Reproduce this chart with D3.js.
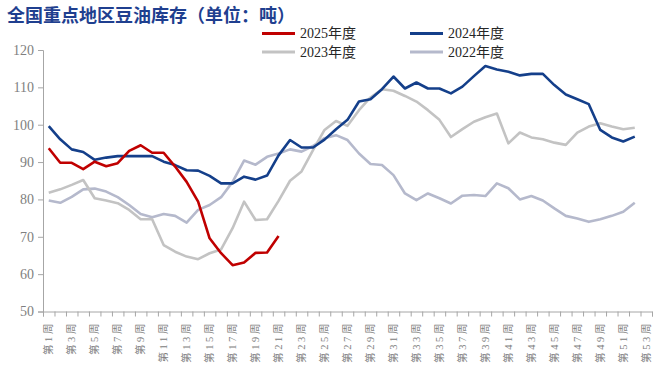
<!DOCTYPE html>
<html><head><meta charset="utf-8">
<script src="https://cdn.jsdelivr.net/npm/d3@7"></script>
<style>
html,body{margin:0;padding:0;background:#fff;}
svg{display:block;}
</style></head>
<body>
<svg id="chart" width="660" height="379"></svg>
<script>
const title = "全国重点地区豆油库存（单位：吨）";
const weeks = ["第1周","第2周","第3周","第4周","第5周","第6周","第7周","第8周","第9周","第10周",
"第11周","第12周","第13周","第14周","第15周","第16周","第17周","第18周","第19周","第20周",
"第21周","第22周","第23周","第24周","第25周","第26周","第27周","第28周","第29周","第30周",
"第31周","第32周","第33周","第34周","第35周","第36周","第37周","第38周","第39周","第40周",
"第41周","第42周","第43周","第44周","第45周","第46周","第47周","第48周","第49周","第50周",
"第51周","第52周","第53周"];
const yTicks = [50,60,70,80,90,100,110,120];
const seriesNames = ["2022年度","2023年度","2024年度","2025年度"];
const y2025 = [93.7,89.8,89.8,88.1,90.1,88.9,89.7,93.0,94.5,92.5,92.5,88.8,84.7,79.4,69.6,65.6,62.4,63.1,65.7,65.8,70.2];
const y2024 = [99.6,96.1,93.4,92.7,90.6,91.2,91.6,91.6,91.6,91.6,90.1,89.2,87.8,87.7,86.3,84.3,84.3,86.1,85.3,86.4,
91.8,95.9,93.9,93.9,96.0,98.8,101.3,106.2,106.8,109.5,112.9,109.7,111.3,109.7,109.7,108.4,110.2,113.0,115.7,114.8,
114.2,113.2,113.6,113.6,110.6,108.1,106.8,105.5,98.6,96.6,95.5,96.8];
const y2023 = [81.8,82.7,83.9,85.2,80.3,79.7,79.0,77.2,74.7,74.7,67.8,66.0,64.7,64.0,65.6,66.6,72.3,79.4,74.5,74.7,
79.6,85.0,87.5,93.2,98.6,101.0,99.7,103.9,107.3,109.5,109.1,107.7,106.2,103.9,101.3,96.7,98.8,100.8,102.0,103.0,
95.0,97.9,96.6,96.1,95.2,94.6,97.9,99.5,100.4,99.5,98.8,99.2];
const y2022 = [79.7,79.1,80.7,82.7,82.9,82.1,80.6,78.5,76.1,75.2,76.1,75.6,73.8,77.2,78.5,80.6,84.7,90.4,89.3,91.4,
92.3,93.4,92.8,94.3,96.4,97.2,95.9,92.3,89.5,89.2,86.5,81.6,79.8,81.6,80.3,78.9,81.0,81.2,80.9,84.3,
83.0,80.0,80.9,79.7,77.6,75.6,74.9,74.0,74.7,75.6,76.7,79.1];

const svg = d3.select("#chart");
const L = 43, R = 652, T = 50, B = 311.5;
const serif = "'Liberation Serif','Noto Sans CJK SC',serif";

const x = d3.scaleLinear().domain([0.5, weeks.length + 0.5]).range([L, R]);
const y = d3.scaleLinear().domain([50, 120]).range([B, T]);

// title
svg.append("text").attr("x", 7).attr("y", 22)
  .attr("font-family", "'Noto Sans CJK SC',sans-serif").attr("font-weight", 700)
  .attr("font-size", 18).attr("fill", "#1f3f8f").text(title);

// y axis
const yAxis = d3.axisLeft(y).tickValues(yTicks).tickSize(5).tickPadding(4);
const gy = svg.append("g").attr("transform", `translate(${L},0)`).call(yAxis);
gy.select(".domain").attr("stroke", "#a6a6a6");
gy.selectAll(".tick line").attr("stroke", "#a6a6a6");
gy.selectAll(".tick text").attr("font-family", serif).attr("font-size", 14).attr("fill", "#7f7f7f");

// x axis (ticks at category boundaries)
const bounds = d3.range(weeks.length + 1).map(i => i + 0.5);
const xAxis = d3.axisBottom(x).tickValues(bounds).tickSize(5).tickFormat("");
const gx = svg.append("g").attr("transform", `translate(0,${B})`).call(xAxis);
gx.select(".domain").attr("stroke", "#a6a6a6");
gx.selectAll(".tick line").attr("stroke", "#a6a6a6");

svg.append("g").selectAll("text")
  .data(weeks.map((w, i) => ({w, i: i + 1})).filter(d => d.i % 2 === 1))
  .join("text")
  .attr("transform", d => `translate(${x(d.i)},321) rotate(-90)`)
  .attr("text-anchor", "end").attr("dy", "0.35em")
  .attr("font-family", serif).attr("font-size", 10.5).attr("letter-spacing", 2.6)
  .attr("fill", "#808080").text(d => d.w);

// lines
const line = d3.line().x((d, i) => x(i + 1)).y(d => y(d));
const series = [
  {name: seriesNames[0], values: y2022, color: "#b5b9cc"},
  {name: seriesNames[1], values: y2023, color: "#c3c3c3"},
  {name: seriesNames[2], values: y2024, color: "#143f8a"},
  {name: seriesNames[3], values: y2025, color: "#c00000"}
];
svg.append("g").selectAll("path").data(series).join("path")
  .attr("d", d => line(d.values)).attr("fill", "none")
  .attr("stroke", d => d.color).attr("stroke-width", 2.6)
  .attr("stroke-linejoin", "round");

// legend
const legend = [
  {s: series[3], lx: 262, ly: 33.5},
  {s: series[2], lx: 410, ly: 33.5},
  {s: series[1], lx: 262, ly: 52},
  {s: series[0], lx: 410, ly: 52}
];
const lg = svg.append("g").selectAll("g").data(legend).join("g")
  .attr("transform", d => `translate(${d.lx},${d.ly})`);
lg.append("line").attr("x1", 0).attr("x2", 33).attr("y1", 0).attr("y2", 0)
  .attr("stroke", d => d.s.color).attr("stroke-width", 3);
lg.append("text").attr("x", 38).attr("y", 0).attr("dy", "0.35em")
  .attr("font-family", serif).attr("font-size", 14).attr("fill", "#262626")
  .text(d => d.s.name);
</script>
</body></html>
